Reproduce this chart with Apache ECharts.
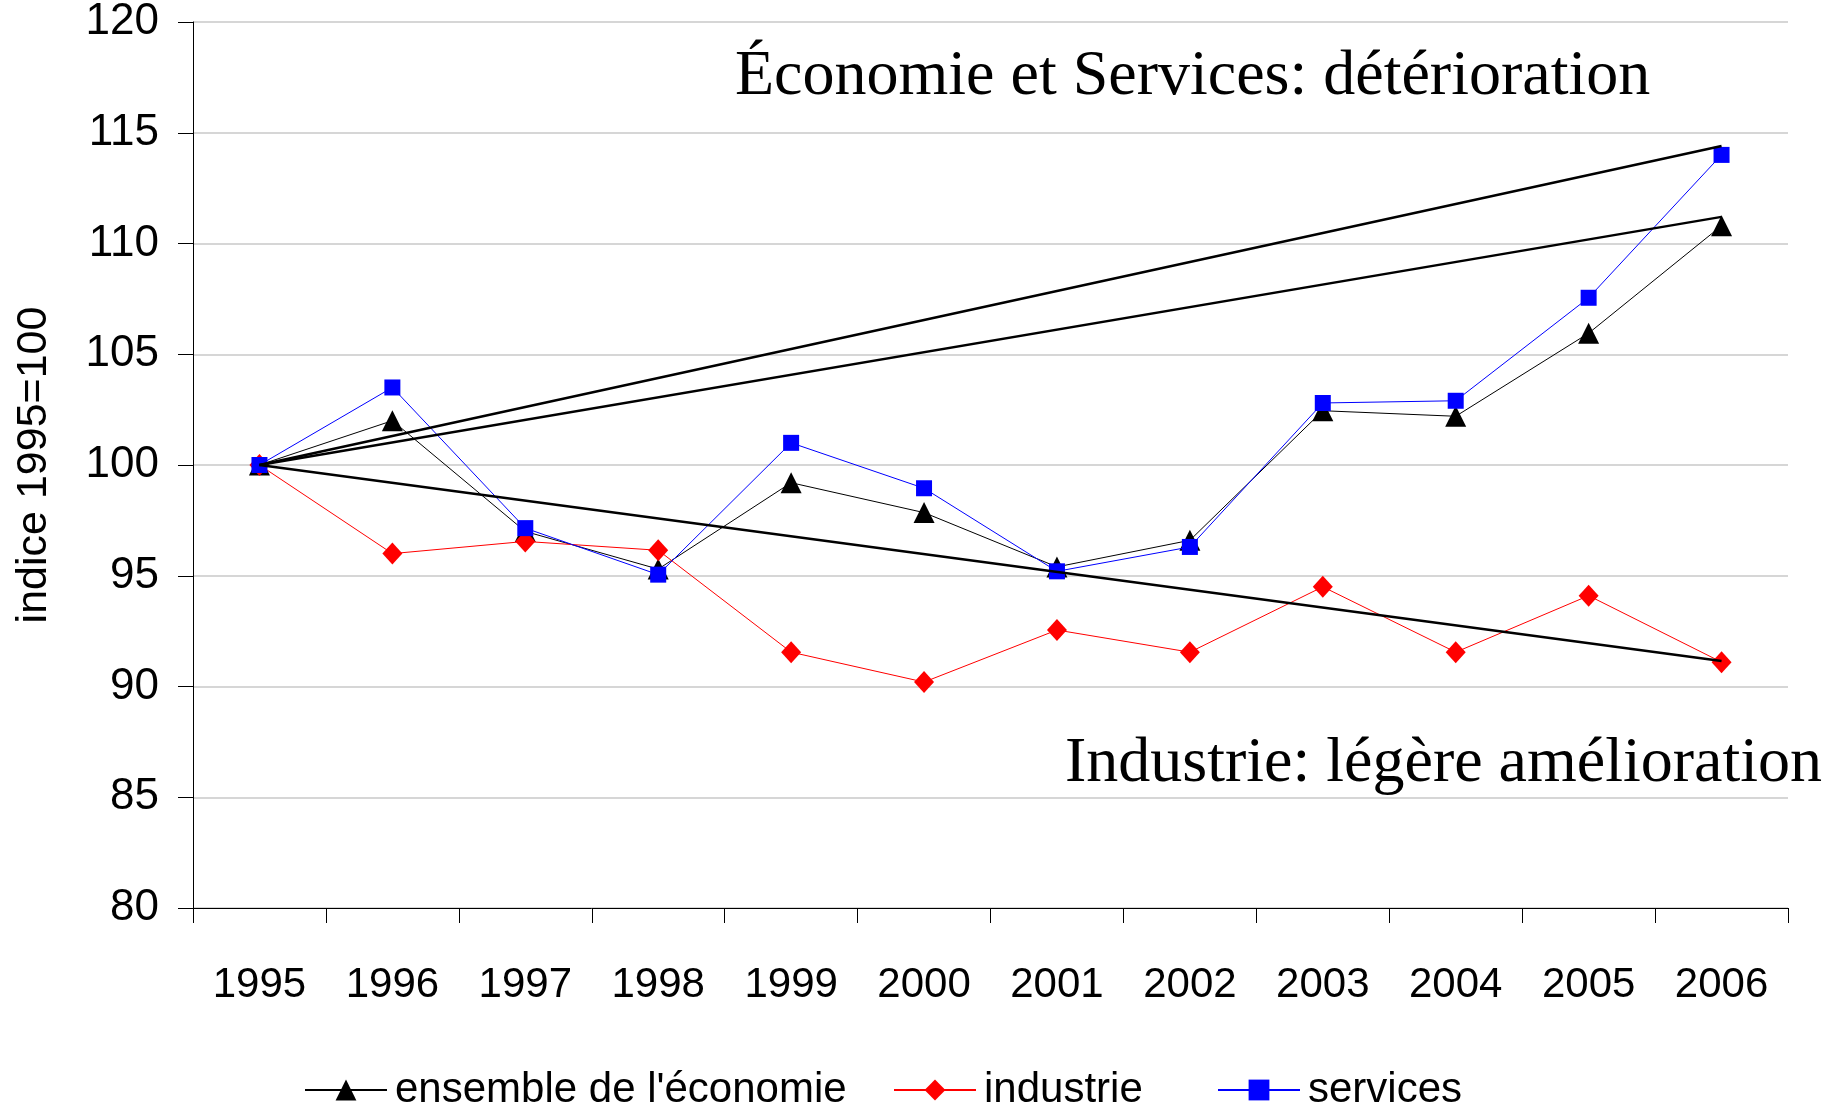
<!DOCTYPE html>
<html>
<head>
<meta charset="utf-8">
<script src="https://cdn.jsdelivr.net/npm/echarts@6/dist/echarts.min.js"></script>
<style>
  html, body { margin: 0; padding: 0; background: #fff; }
  #chart { width: 1835px; height: 1110px; }
</style>
</head>
<body>
<div id="chart"></div>
<script>
// années
var years = ['1995', '1996', '1997', '1998', '1999', '2000', '2001', '2002', '2003', '2004', '2005', '2006'];

// indices 1995=100
var ensemble = [100, 102.0, 97.0, 95.3, 99.2, 97.85, 95.4, 96.6, 102.45, 102.2, 105.95, 110.8];
var industrie = [100, 96.0, 96.55, 96.15, 91.55, 90.2, 92.55, 91.55, 94.5, 91.55, 94.1, 91.1];
var services = [100, 103.5, 97.15, 95.05, 101.0, 98.95, 95.2, 96.3, 102.8, 102.9, 107.55, 114.0];

// droites de tendance (début 1995, fin 2006)
var trendServices = [100, 114.4];
var trendEnsemble = [100, 111.2];
var trendIndustrie = [100, 91.15];

var yTicks = { min: 80, max: 120, interval: 5 };

var annotHaut = 'Économie et Services: détérioration';
var annotBas = 'Industrie: légère amélioration';

// droite entre la premiere et la derniere annee
function trendData(pair) {
  var d = [];
  for (var i = 0; i < years.length; i++) d.push(null);
  d[0] = pair[0];
  d[years.length - 1] = pair[1];
  return d;
}

function trendSeries(pair) {
  return {
    type: 'line',
    data: trendData(pair),
    connectNulls: true,
    showSymbol: false,
    symbol: 'none',
    lineStyle: { color: '#000', width: 2.4 },
    z: 5,
    silent: true
  };
}

var sans = 'Liberation Sans, Arial, sans-serif';
var serif = 'Liberation Serif, Times New Roman, serif';

function legendAt(name, left) {
  return {
    data: [name], left: left, top: 1064,
    itemWidth: 82, itemHeight: 26,
    textStyle: { fontFamily: sans, fontSize: 42, color: '#000', padding: [0, 0, 0, 3] }
  };
}

var chart = echarts.init(document.getElementById('chart'));

var option = {
  animation: false,
  backgroundColor: '#fff',
  grid: { left: 193, right: 47, top: 22, bottom: 202, containLabel: false },
  legend: [
    legendAt('ensemble de l\'économie', 299),
    legendAt('industrie', 888),
    legendAt('services', 1212)
  ],
  xAxis: {
    type: 'category',
    data: years,
    boundaryGap: true,
    axisLine: { lineStyle: { color: '#000', width: 1 } },
    axisTick: { show: true, length: 15, alignWithLabel: false, lineStyle: { color: '#000' } },
    axisLabel: { fontFamily: sans, fontSize: 42, color: '#000', margin: 56 },
    splitLine: { show: false }
  },
  yAxis: {
    type: 'value',
    min: yTicks.min,
    max: yTicks.max,
    interval: yTicks.interval,
    name: 'indice 1995=100',
    nameLocation: 'middle',
    nameGap: 137,
    nameTextStyle: { fontFamily: sans, fontSize: 43, color: '#000' },
    axisLine: { show: true, lineStyle: { color: '#000', width: 1 } },
    axisTick: { show: true, length: 15, lineStyle: { color: '#000' } },
    axisLabel: { fontFamily: sans, fontSize: 44, color: '#000', margin: 34 },
    splitLine: { show: true, lineStyle: { color: '#c8c8c8', width: 1.5 } }
  },
  graphic: [
    {
      type: 'text', left: 735, top: 45,
      style: { text: annotHaut, font: '64px ' + serif, fill: '#000' }
    },
    {
      type: 'text', left: 1065, top: 732,
      style: { text: annotBas, font: '64px ' + serif, fill: '#000' }
    }
  ],
  series: [
    {
      name: 'ensemble de l\'économie',
      type: 'line',
      data: ensemble,
      symbol: 'triangle',
      symbolSize: 21,
      itemStyle: { color: '#000' },
      lineStyle: { color: '#000', width: 1 },
      z: 2
    },
    {
      name: 'industrie',
      type: 'line',
      data: industrie,
      symbol: 'diamond',
      symbolSize: [20, 22],
      itemStyle: { color: '#ff0000' },
      lineStyle: { color: '#ff0000', width: 1 },
      z: 3
    },
    {
      name: 'services',
      type: 'line',
      data: services,
      symbol: 'rect',
      symbolSize: 16,
      itemStyle: { color: '#0000ff' },
      lineStyle: { color: '#0000ff', width: 1 },
      z: 4
    },
    trendSeries(trendServices),
    trendSeries(trendEnsemble),
    trendSeries(trendIndustrie)
  ]
};

chart.setOption(option);
</script>
</body>
</html>
